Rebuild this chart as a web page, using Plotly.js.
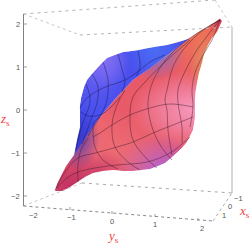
<!DOCTYPE html>
<html><head><meta charset="utf-8">
<script src="https://cdn.plot.ly/plotly-3.0.1.min.js"></script>
<style>html,body{margin:0;padding:0;background:#fff}</style></head>
<body><div id="chart" style="width:250px;height:244px"></div>
<script>
// silhouette and lobes
var tipLowX=[55,57,60,66,74];
var tipLowY=[191,184,177,166,155];
var blueOuterX=[74,77,80,80,80,81,84,87,91,95,101,107,114,123,132,140,148,157,167,177,185,190];
var blueOuterY=[155,140,127,115,105,98,87,80,75,70,64,58,55,52,51,50,48,46.5,45,42.5,40,38];
var ridgeX=[74,85,100,115,133,150,165,178,190];
var ridgeY=[155,138,117,99,80,68,57,47,38];
var tipHighX=[190,200,208,215,220,222,220,217,212,208,204,202,199,197,195.5,195,195,194,193,190,187,182,177,171,165,158,150,142,133,123,113,103,93,85,78,70,63,55];
var tipHighY=[38,31,27,22,18.5,21,26,32,38,45,54,63,73,83,92,100,117,124,130,136,142,148,153,158,163,166,169,170,171,171,170,171,173,177,182,187,191,191];
// soft shading patches: corners then colour
var patchX0=[40,130,160,115,35,70,60,120,190,205,70,80,60,125,55];
var patchX1=[130,260,240,205,110,170,120,190,222,237,130,130,125,185,100];
var patchY0=[90,70,-20,135,150,110,90,0,35,5,150,30,30,20,105];
var patchY1=[210,150,90,205,230,190,170,70,95,35,190,90,110,80,170];
var patchColor=['#f06a70','#f8a0c8','#f07a50','#a860e8','#b02060','#f07a80','#f06a70','#ff8070','#d8a060','#c83050','#c03068','#a080f4','#7a68f2','#4a78f4','#2e2ec0'];
var patchAlpha=[0.5,0.9,0.75,0.85,0.8,0.5,0.5,0.4,0.7,0.7,0.55,0.7,0.55,0.7,0.75];
// mesh lines on the red lobe
var redLines=[
 {x:[220,190,170,157,150,148,153,162,172],y:[20,38,55,73,90,107,130,148,160]},
 {x:[220,203,183,173,167,165,167,168,172],y:[20,30,50,67,90,100,110,130,155]},
 {x:[220,208,195,182,178,178,182,182],y:[20,35,53,78,90,103,127,143]},
 {x:[220,212,202,195,192,193,190],y:[20,40,57,73,90,107,127]},
 {x:[190,165,145,133,130,133,148,157],y:[40,62,82,97,115,140,160,168]},
 {x:[125,117,112,115,128,140],y:[90,105,125,147,162,170]},
 {x:[100,94,93,95,103,118],y:[117,122,130,147,160,169]},
 {x:[88,81,78,78],y:[138,150,165,182]},
 {x:[93,100,112,130,150,170,193],y:[137,133,125,115,108,104,107]},
 {x:[55,65,78,95,110,133,153,173,193],y:[190,172,158,153,149,142,133,125,117]},
 {x:[57,67,78,95,117,147,170,190],y:[188,178,172,168,165,162,153,137]}
];
// mesh lines on the blue lobe
var blueLines=[
 {x:[80,87,103,125,140,150,165],y:[108,98,88,80,70,62,55]},
 {x:[81,88,100,110,120],y:[112,116,115,108,97]},
 {x:[118,123,125,122],y:[54,73,82,92]},
 {x:[103,108,107,102,96,88],y:[62,80,100,113,123,136]},
 {x:[92,98,97,92,88,82],y:[74,87,103,117,128,144]},
 {x:[86,90,89,85,80,76],y:[84,97,107,117,132,150]},
 {x:[138,140,136],y:[51,68,76]}
];
// plot box
var boxLines=[
 {x:[23.5,80],y:[14,35],c:'#c8c8c8',d:'dot'},
 {x:[80,232],y:[35,27],c:'#b4b4b4',d:'3px,4px'},
 {x:[23.5,215],y:[14,0],c:'#b4b4b4',d:'3px,4px'},
 {x:[215,232],y:[0,27],c:'#c8c8c8',d:'dot'},
 {x:[23.5,82],y:[206,183],c:'#c8c8c8',d:'dot'},
 {x:[82,232],y:[183,193],c:'#a8a8a8',d:'3px,4px'},
 {x:[23.5,213],y:[206,221],c:'#888888',d:'3px,3px'},
 {x:[213,232],y:[221,193],c:'#aaaaaa',d:'dot'},
 {x:[23.5,23.5],y:[14,206],c:'#808080',d:'solid'},
 {x:[232,232],y:[27,193],c:'#b0b0b0',d:'solid'}
];
var zTickLabels=['2','1','0','−1','−2'];
var zTickX=[18,18,18,15,15], zTickY=[24,67,110,153,196];
var yTickLabels=['−2','−1','0','1','2'];
var yTickX=[33,71,112,155,202], yTickY=[215,217,221,224,228];
var xTickLabels=['−1','0','1'];
var xTickX=[238,230,224], xTickY=[198,206,215];
var tickMarkX=[[24,27],[24,27],[24,27],[24,27],[24,27],[70,70],[112,112],[155,155],[198,198]];
var tickMarkY=[[24,24],[67,67],[110,110],[153,153],[196,196],[207,210],[211,214],[214,217],[218,221]];

function lobe(x,y,c){return {x:x,y:y,mode:'lines',fill:'toself',fillcolor:c,line:{width:0},hoverinfo:'skip'};}
function hexA(h,a){var n=parseInt(h.slice(1),16);return 'rgba('+(n>>16)+','+((n>>8)&255)+','+(n&255)+','+a+')';}
function patch(i){
 var a=patchAlpha[i],c=patchColor[i];
 return {x:[patchX0[i],patchX1[i],patchX1[i],patchX0[i],patchX0[i]],y:[patchY0[i],patchY0[i],patchY1[i],patchY1[i],patchY0[i]],
  mode:'lines',fill:'toself',line:{width:0},hoverinfo:'skip',
  fillgradient:{type:'radial',colorscale:[[0,hexA(c,a)],[0.5,hexA(c,a*0.55)],[1,hexA(c,0)]]}};
}
var traces=[];
var redX=tipLowX.concat(ridgeX.slice(1),tipHighX.slice(1)), redY=tipLowY.concat(ridgeY.slice(1),tipHighY.slice(1));
var blueX=ridgeX.slice().reverse().concat(blueOuterX).reverse(), blueY=ridgeY.slice().reverse().concat(blueOuterY).reverse();
traces.push(lobe(redX,redY,'#e85a68'));
[0,1,2,3,4,5,6,7,8,9,10].forEach(function(i){traces.push(patch(i));});
traces.push(lobe(blueX,blueY,'#4a50ee'));
[11,12,13,14].forEach(function(i){traces.push(patch(i));});
// white surround with the silhouette cut out (opposite winding)
var silX=tipLowX.concat(blueOuterX.slice(1),tipHighX.slice(1)).reverse();
var silY=tipLowY.concat(blueOuterY.slice(1),tipHighY.slice(1)).reverse();
var maskX=[-5,-5,255,255,-5,-5].concat(silX).concat([-5]);
var maskY=[191,-5,-5,249,249,191].concat(silY).concat([191]);
traces.push({x:maskX,y:maskY,mode:'lines',fill:'toself',fillcolor:'#ffffff',line:{width:0},hoverinfo:'skip'});
redLines.forEach(function(l){traces.push({x:l.x,y:l.y,mode:'lines',line:{color:'rgba(50,20,40,0.62)',width:0.7,shape:'spline'},hoverinfo:'skip'});});
blueLines.forEach(function(l){traces.push({x:l.x,y:l.y,mode:'lines',line:{color:'rgba(20,20,70,0.62)',width:0.7,shape:'spline'},hoverinfo:'skip'});});
boxLines.forEach(function(l){traces.push({x:l.x,y:l.y,mode:'lines',line:{color:l.c,width:1,dash:l.d},hoverinfo:'skip'});});
tickMarkX.forEach(function(m,i){traces.push({x:m,y:tickMarkY[i],mode:'lines',line:{color:'#888',width:0.8},hoverinfo:'skip'});});
var ann=[];
function lab(t,x,y,f){ann.push({text:t,x:x,y:y,xref:'x',yref:'y',showarrow:false,font:f,xanchor:'center',yanchor:'middle',borderpad:0});}
var tf={family:'Liberation Sans',size:7.5,color:'#555'};
zTickLabels.forEach(function(t,i){lab(t,zTickX[i],zTickY[i],tf);});
yTickLabels.forEach(function(t,i){lab(t,yTickX[i],yTickY[i],tf);});
xTickLabels.forEach(function(t,i){lab(t,xTickX[i],xTickY[i],tf);});
var af={family:'Liberation Serif',size:13,color:'#f04040'};
lab('<i>z</i><sub>s</sub>',5,119,af);
lab('<i>y</i><sub>s</sub>',113,236,af);
lab('<i>x</i><sub>s</sub>',244,211,af);
Plotly.newPlot('chart',traces,{
 width:250,height:244,margin:{l:0,r:0,t:0,b:0},showlegend:false,
 paper_bgcolor:'#fff',plot_bgcolor:'#fff',
 xaxis:{range:[0,250],visible:false,fixedrange:true},
 yaxis:{range:[244,0],visible:false,fixedrange:true},
 annotations:ann
},{displayModeBar:false,staticPlot:true});
</script></body></html>
